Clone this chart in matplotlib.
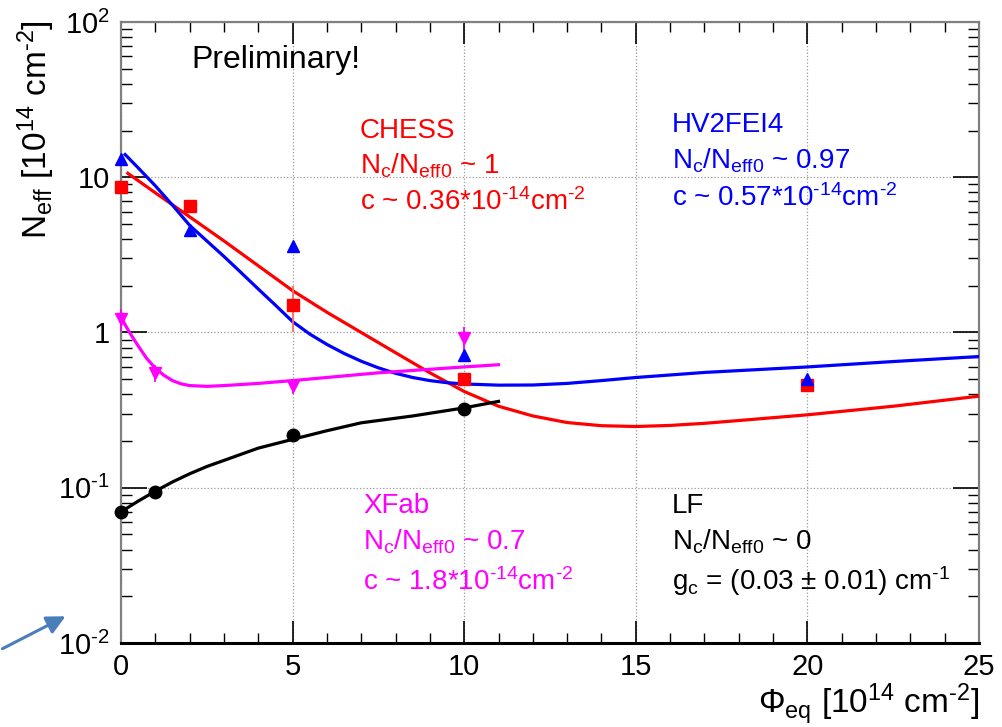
import numpy as np
import matplotlib
matplotlib.use('Agg')
import matplotlib.pyplot as plt
from matplotlib.ticker import FixedLocator, FixedFormatter, LogLocator, NullFormatter

plt.rcParams['font.family'] = ['Liberation Sans', 'DejaVu Sans']
plt.rcParams['mathtext.fontset'] = 'custom'
plt.rcParams['mathtext.rm'] = 'Liberation Sans'
plt.rcParams['mathtext.it'] = 'Liberation Sans:italic'
plt.rcParams['mathtext.bf'] = 'Liberation Sans:bold'

# measured points (fluence in 1e14 neq/cm2, Neff in 1e14 cm-3)
chess_x = [0, 2, 5, 10, 20]
chess_y = [8.6, 6.5, 1.5, 0.50, 0.46]
chess_err = [0.4, 0.5, 0.49, 0.04, 0.03]

hv_x = [0, 2, 5, 10, 20]
hv_y = [13.1, 4.56, 3.6, 0.72, 0.50]
hv_err = [0.5, 0.4, 0.2, 0.06, 0.03]

xfab_x = [0, 1, 5, 10]
xfab_y = [1.22, 0.55, 0.45, 0.92]
xfab_err = [0.2, 0.07, 0.05, 0.16]

lf_x = [0, 1, 5, 10]
lf_y = [0.070, 0.094, 0.22, 0.32]
lf_err = [0.003, 0.004, 0.01, 0.015]

# fitted curves
chess_fx = [0.2, 1, 2, 3, 4, 5, 6, 7, 8, 9, 10, 11, 12, 13, 14, 15, 16, 17, 18, 20, 22.5, 25]
chess_fy = [10.6, 7.94, 5.56, 3.89, 2.69, 1.86, 1.35, 1.0, 0.741, 0.55, 0.417, 0.335, 0.29, 0.263,
            0.251, 0.248, 0.252, 0.26, 0.271, 0.295, 0.335, 0.389]

hv_fx = [0.12, 0.5, 1, 1.5, 2, 2.5, 3, 3.5, 4, 4.5, 5, 5.5, 6, 6.5, 7, 7.5, 8, 8.5, 9, 9.5, 10,
         11, 12, 13, 14, 15, 17, 20, 22.5, 25]
hv_fy = [14.0, 11.5, 8.81, 6.61, 4.9, 3.89, 3.09, 2.43, 1.905, 1.50, 1.175, 0.977, 0.838, 0.733,
         0.653, 0.592, 0.546, 0.513, 0.49, 0.475, 0.466, 0.458, 0.459, 0.47, 0.49, 0.513, 0.553,
         0.60, 0.65, 0.70]

xfab_fx = [0, 0.25, 0.5, 0.75, 1, 1.25, 1.5, 1.75, 2, 2.5, 3, 4, 5, 7.5, 10, 11]
xfab_fy = [1.25, 1.0, 0.82, 0.68, 0.59, 0.53, 0.49, 0.467, 0.455, 0.45, 0.455, 0.47, 0.49, 0.55,
           0.60, 0.62]

lf_fx = [0, 0.5, 1, 1.5, 2, 2.5, 3, 4, 5, 6, 7, 8.5, 10, 11]
lf_fy = [0.070, 0.082, 0.095, 0.109, 0.123, 0.137, 0.150, 0.180, 0.205, 0.233, 0.262, 0.290,
         0.327, 0.36]

x_ticks = [0, 5, 10, 15, 20, 25]
y_ticks = [1e-2, 1e-1, 1, 10, 100]
y_labels = [r'10$^{\text{-2}}$', r'10$^{\text{-1}}$', '1', '10', r'10$^{\mathrm{2}}$']

RED = '#ff0000'
BLUE = '#0000ff'
MAG = '#ff00ff'
BLK = '#000000'

fig = plt.figure(figsize=(10.02, 7.27), dpi=100)
ax = fig.add_axes([121 / 1002, 1 - 643 / 727, 858 / 1002, 621 / 727])

ax.set_yscale('log')
ax.set_xlim(0, 25)
ax.set_ylim(1e-2, 1e2)

ax.grid(True, which='major', color='#999999', linestyle=':', linewidth=0.9)

# fit curves
ax.plot(chess_fx, chess_fy, color=RED, lw=2.3, zorder=3)
ax.plot(hv_fx, hv_fy, color=BLUE, lw=2.3, zorder=3)
ax.plot(xfab_fx, xfab_fy, color=MAG, lw=2.3, zorder=3)
ax.plot(lf_fx, lf_fy, color=BLK, lw=2.3, zorder=3)

# data with errors
ax.errorbar(chess_x, chess_y, yerr=chess_err, fmt='s', color=RED, ms=9, elinewidth=1.3,
            ecolor='#ff6666', capsize=0, zorder=4, clip_on=False)
ax.errorbar(hv_x, hv_y, yerr=hv_err, fmt='^', color=BLUE, ms=9, elinewidth=1.3,
            ecolor='#6666ff', capsize=0, zorder=4, clip_on=False)
ax.errorbar(xfab_x, xfab_y, yerr=xfab_err, fmt='v', color=MAG, ms=9, elinewidth=1.3,
            capsize=0, zorder=4, clip_on=False)
ax.errorbar(lf_x, lf_y, yerr=lf_err, fmt='o', color=BLK, ms=9, elinewidth=1.3,
            capsize=0, zorder=4, clip_on=False)

# axes style
ax.xaxis.set_major_locator(FixedLocator(x_ticks))
ax.xaxis.set_minor_locator(FixedLocator(np.arange(0, 26, 1)))
ax.yaxis.set_major_locator(FixedLocator(y_ticks))
ax.yaxis.set_major_formatter(FixedFormatter(y_labels))
ax.yaxis.set_minor_locator(LogLocator(base=10, subs=np.arange(2, 10)))
ax.yaxis.set_minor_formatter(NullFormatter())

ax.tick_params(axis='both', which='both', direction='in', top=True, right=True, labelsize=21)
ax.tick_params(axis='x', which='major', length=16, width=1.2, pad=7)
ax.tick_params(axis='x', which='minor', length=7, width=1.0)
ax.tick_params(axis='y', which='major', length=19, width=1.2, pad=8)
ax.tick_params(axis='y', which='minor', length=8, width=1.0)

for side in ['left', 'top', 'right']:
    ax.spines[side].set_color('#808080')
    ax.spines[side].set_linewidth(1.6)
ax.spines['bottom'].set_color('#000000')
ax.spines['bottom'].set_linewidth(2.2)

# labels
fig.text(36 / 1002, 1 - 20 / 727, r'N$_{\mathrm{eff}}$ [10$^{\mathrm{14}}$ cm$^{\text{-2}}$]',
         rotation=90, ha='center', va='top', fontsize=24)
fig.text(979 / 1002, 13 / 727, r'Φ$_{\mathrm{eq}}$ [10$^{\mathrm{14}}$ cm$^{\text{-2}}$]',
         ha='right', va='baseline', fontsize=24)

tr = ax.transAxes
ax.text(0.0824, 0.9254, 'Preliminary!', transform=tr, fontsize=23, va='baseline')

ax.text(0.2786, 0.8127, 'CHESS', transform=tr, fontsize=20, color=RED, va='baseline')
ax.text(0.2786, 0.7563, r'N$_{\mathrm{c}}$/N$_{\mathrm{eff0}}$ ~ 1', transform=tr, fontsize=20,
        color=RED, va='baseline')
ax.text(0.2786, 0.6973, r'c ~ 0.36*10$^{\text{-14}}$cm$^{\text{-2}}$', transform=tr,
        fontsize=20, color=RED, va='baseline')

ax.text(0.6418, 0.8234, 'HV2FEI4', transform=tr, fontsize=20, color=BLUE, va='baseline')
ax.text(0.6418, 0.7645, r'N$_{\mathrm{c}}$/N$_{\mathrm{eff0}}$ ~ 0.97', transform=tr, fontsize=20,
        color=BLUE, va='baseline')
ax.text(0.6418, 0.7037, r'c ~ 0.57*10$^{\text{-14}}$cm$^{\text{-2}}$', transform=tr,
        fontsize=20, color=BLUE, va='baseline')

ax.text(0.2824, 0.2098, 'XFab', transform=tr, fontsize=20, color=MAG, va='baseline')
ax.text(0.2824, 0.1498, r'N$_{\mathrm{c}}$/N$_{\mathrm{eff0}}$ ~ 0.7', transform=tr, fontsize=20,
        color=MAG, va='baseline')
ax.text(0.2824, 0.0853, r'c ~ 1.8*10$^{\text{-14}}$cm$^{\text{-2}}$', transform=tr,
        fontsize=20, color=MAG, va='baseline')

ax.text(0.6418, 0.2098, 'LF', transform=tr, fontsize=20, color=BLK, va='baseline')
ax.text(0.6418, 0.1498, r'N$_{\mathrm{c}}$/N$_{\mathrm{eff0}}$ ~ 0', transform=tr, fontsize=20,
        color=BLK, va='baseline')
ax.text(0.6418, 0.0853, r'g$_{\mathrm{c}}$ = (0.03 ± 0.01) cm$^{\text{-1}}$', transform=tr,
        fontsize=20, color=BLK, va='baseline')

# pointer arrow in the lower left corner
ax.annotate('', xy=(68, 112), xytext=(0, 77), xycoords='figure pixels', textcoords='figure pixels',
            arrowprops=dict(arrowstyle='-|>', color='#4a7ebb', lw=2.2, mutation_scale=28),
            annotation_clip=False)

fig.savefig('out.png', dpi=100)
